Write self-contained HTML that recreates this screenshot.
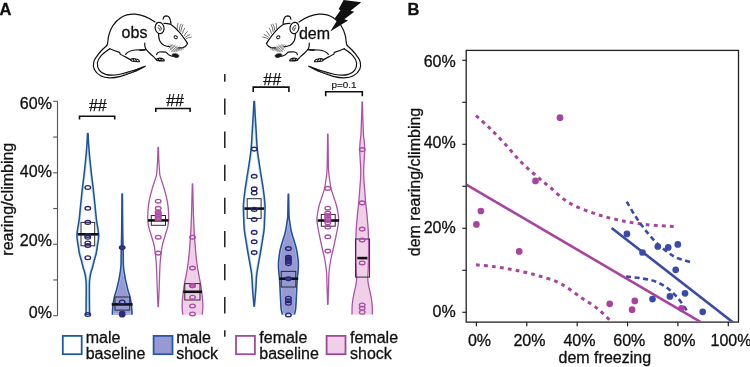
<!DOCTYPE html>
<html><head><meta charset="utf-8"><style>
html,body{margin:0;padding:0;background:#fff;width:750px;height:367px;overflow:hidden}
svg{display:block;will-change:transform}
text{font-family:"Liberation Sans",sans-serif;fill:#111;stroke:#111;stroke-width:0.3px}
text.t{stroke:none}
</style></head><body>
<svg width="750" height="367" viewBox="0 0 750 367">
<text x="-0.4" y="15" font-size="16.5" font-weight="bold">A</text><text x="407.5" y="15" font-size="16.5" font-weight="bold">B</text>
<g id="m1"><g fill="none" stroke="#111" stroke-width="1.2" stroke-linecap="round" stroke-linejoin="round">
<path d="M106.8 45.5 C108.5 43 107.6 39.5 108.6 36 C110.5 28 115 21.5 121 17.5 C126 14.5 131 14 135 14.2 C141 14.5 147 16.5 155 22"/>
<path d="M106.80 45.50 C105.92 46.33 103.10 48.78 101.50 50.50 C99.90 52.22 98.48 53.92 97.20 55.80 C95.92 57.68 94.30 59.55 93.80 61.80 C93.30 64.05 93.07 66.97 94.20 69.30 C95.33 71.63 98.00 74.38 100.60 75.80 C103.20 77.22 106.45 77.72 109.80 77.80 C113.15 77.88 116.70 77.30 120.70 76.30 C124.70 75.30 129.70 73.48 133.80 71.80 C137.90 70.12 143.38 67.13 145.30 66.20 C143.75 66.80 139.18 68.73 136.00 69.80 C132.82 70.87 129.65 71.73 126.20 72.60 C122.75 73.47 118.73 74.72 115.30 75.00 C111.87 75.28 108.25 75.08 105.60 74.30 C102.95 73.52 100.77 72.20 99.40 70.30 C98.03 68.40 97.10 65.35 97.40 62.90 C97.70 60.45 99.13 57.97 101.20 55.60 C103.27 53.23 108.37 49.85 109.80 48.70"/>
<path d="M123 73.2 L124 75.2 M126 72.4 L127.2 74.3 M129 71.5 L130.2 73.4 M132 70.5 L133.2 72.3 M135 69.5 L136 71.2 M138 68.4 L139 70" stroke-width="0.5"/>
<path d="M109.8 48.7 C113 50 117 51.5 119.6 52.4 L120.3 54.2 C123 55.6 127 57.8 130.4 59.6"/>
<path d="M130.4 59.6 C132 58.5 134 58.3 136 59 C138 59.5 139.5 60.5 139.4 61.6 C137 61.9 134 61.6 131.6 61 Z"/>
<path d="M133 59.3 L134.3 61.3 M135.5 59.5 L136.8 61.5" stroke-width="1.1"/>
<path d="M125.6 54.3 C127.8 51.5 131 50.3 135 50 C139 49.8 142.5 49.9 145.7 49.6"/>
<path d="M144.8 43.2 C144.5 45.2 145 47.5 145.7 48.9 C147.5 51.5 150.5 54 153.2 56.4 C154.5 57.6 155.4 59 156.4 59.6"/>
<path d="M156.4 59.6 C157.5 58.3 159.5 58 161.5 58.4 C163.5 58.9 164.5 59.8 164.2 60.8 C161.8 61 159 60.8 156.8 60.4 Z"/>
<path d="M158 58.6 L159.4 60.6 M160.6 58.7 L161.8 60.6" stroke-width="1.1"/>
<path d="M156.6 54.6 C156.8 53 157.6 52.2 159.2 52 C161.5 51.9 164 51.9 165.9 52.1 C167 53 167.6 54 168.6 54.7 C170 55.5 171.5 56 173.1 56.3"/>
<path d="M158.5 33.6 C158.6 36 158.8 38.6 159.6 40.5 C160.4 42.2 162 44.2 163.9 45.2 C165.8 46.1 168 46.5 169.8 46.6 M178.3 47.8 C180 47.9 181.6 47.9 182.9 47.7 C184.6 47.2 186 46.3 186.8 44.8 C187.2 44 187.4 43.6 187.5 43.4"/>
<ellipse cx="159.6" cy="28" rx="4.4" ry="5.7" transform="rotate(-12 159.6 28)" fill="#fff"/>
<path d="M158.4 25.6 C160 25.6 161.4 27.2 161.3 29.3 M158.2 27.7 C159.3 28.2 160.1 29.3 160.1 30.7" stroke-width="0.9"/>
<path d="M163.1 19.2 C163.3 17.2 164.6 15.8 166.5 15.8 C168.6 16 169.8 17.8 170.4 20.2 C170.8 21.5 170.9 22.6 170.9 23.4"/>
<path d="M164 23.3 C166 23.2 168.5 23.6 170.9 24.4 C173.8 26.3 176.3 28.6 178.8 31.6 C180.8 33.8 182.6 36 184 38.2 C185.3 40 186.5 41.7 187.4 43.4"/>
<ellipse cx="175.7" cy="37.3" rx="1.65" ry="1.4" transform="rotate(20 175.7 37.3)" stroke-width="0.95"/>
<path d="M177.3 28.8 Q176.9 25.2 178 23.3 M179.3 30.2 Q179.4 26.6 181 24.1 M180.8 31.6 Q181.2 27.8 182.8 24.7 M182.6 33.3 Q183.2 30.2 184.7 28.2 M184.5 35.6 Q185.5 33.1 187.4 31.4 M185.6 37.2 Q187.6 35.2 189.8 34.6 M186.3 38.6 Q188.4 37.2 191.3 37.1" stroke-width="0.6"/>
<path d="M168.3 45.2 L172.8 51.5 M169.8 44.6 L175 51.8 M171.6 44.8 L177 51.6 M173.6 45.4 L178.6 50.8 M175.8 46.4 L179.6 49.8 M168.6 48.2 L172.4 44.6 M169.6 50.4 L175.4 45 M171.4 51.6 L177.6 46 M173.6 51.8 L179.4 47 M176 51.4 L179.8 48.4 M179.6 47.8 L180.2 50.6 M181.2 47.6 L181.6 50.2 M182.8 47.4 L183.2 49.6" stroke-width="0.5" stroke="#444"/>
<path d="M172.4 54.2 C173.6 53.4 175.6 53.5 177.4 54.2 C178.6 54.7 179.2 55.6 178.8 56.6 C178 57.6 176.2 57.7 174.8 57.2 C173.6 56.8 172.7 56.1 172.4 55.3 Z" fill="#1a1a1a" stroke-width="0.7"/>
<path d="M140 50.4 L144.8 49.9" />
</g>
</g><g transform="translate(454,0) scale(-1,1)"><g fill="none" stroke="#111" stroke-width="1.2" stroke-linecap="round" stroke-linejoin="round">
<path d="M106.8 45.5 C108.5 43 107.6 39.5 108.6 36 C110.5 28 115 21.5 121 17.5 C126 14.5 131 14 135 14.2 C141 14.5 147 16.5 155 22"/>
<path d="M106.80 45.50 C105.92 46.33 103.10 48.78 101.50 50.50 C99.90 52.22 98.48 53.92 97.20 55.80 C95.92 57.68 94.30 59.55 93.80 61.80 C93.30 64.05 93.07 66.97 94.20 69.30 C95.33 71.63 98.00 74.38 100.60 75.80 C103.20 77.22 106.45 77.72 109.80 77.80 C113.15 77.88 116.70 77.30 120.70 76.30 C124.70 75.30 129.70 73.48 133.80 71.80 C137.90 70.12 143.38 67.13 145.30 66.20 C143.75 66.80 139.18 68.73 136.00 69.80 C132.82 70.87 129.65 71.73 126.20 72.60 C122.75 73.47 118.73 74.72 115.30 75.00 C111.87 75.28 108.25 75.08 105.60 74.30 C102.95 73.52 100.77 72.20 99.40 70.30 C98.03 68.40 97.10 65.35 97.40 62.90 C97.70 60.45 99.13 57.97 101.20 55.60 C103.27 53.23 108.37 49.85 109.80 48.70"/>
<path d="M123 73.2 L124 75.2 M126 72.4 L127.2 74.3 M129 71.5 L130.2 73.4 M132 70.5 L133.2 72.3 M135 69.5 L136 71.2 M138 68.4 L139 70" stroke-width="0.5"/>
<path d="M109.8 48.7 C113 50 117 51.5 119.6 52.4 L120.3 54.2 C123 55.6 127 57.8 130.4 59.6"/>
<path d="M130.4 59.6 C132 58.5 134 58.3 136 59 C138 59.5 139.5 60.5 139.4 61.6 C137 61.9 134 61.6 131.6 61 Z"/>
<path d="M133 59.3 L134.3 61.3 M135.5 59.5 L136.8 61.5" stroke-width="1.1"/>
<path d="M125.6 54.3 C127.8 51.5 131 50.3 135 50 C139 49.8 142.5 49.9 145.7 49.6"/>
<path d="M144.8 43.2 C144.5 45.2 145 47.5 145.7 48.9 C147.5 51.5 150.5 54 153.2 56.4 C154.5 57.6 155.4 59 156.4 59.6"/>
<path d="M156.4 59.6 C157.5 58.3 159.5 58 161.5 58.4 C163.5 58.9 164.5 59.8 164.2 60.8 C161.8 61 159 60.8 156.8 60.4 Z"/>
<path d="M158 58.6 L159.4 60.6 M160.6 58.7 L161.8 60.6" stroke-width="1.1"/>
<path d="M156.6 54.6 C156.8 53 157.6 52.2 159.2 52 C161.5 51.9 164 51.9 165.9 52.1 C167 53 167.6 54 168.6 54.7 C170 55.5 171.5 56 173.1 56.3"/>
<path d="M158.5 33.6 C158.6 36 158.8 38.6 159.6 40.5 C160.4 42.2 162 44.2 163.9 45.2 C165.8 46.1 168 46.5 169.8 46.6 M178.3 47.8 C180 47.9 181.6 47.9 182.9 47.7 C184.6 47.2 186 46.3 186.8 44.8 C187.2 44 187.4 43.6 187.5 43.4"/>
<ellipse cx="159.6" cy="28" rx="4.4" ry="5.7" transform="rotate(-12 159.6 28)" fill="#fff"/>
<path d="M158.4 25.6 C160 25.6 161.4 27.2 161.3 29.3 M158.2 27.7 C159.3 28.2 160.1 29.3 160.1 30.7" stroke-width="0.9"/>
<path d="M163.1 19.2 C163.3 17.2 164.6 15.8 166.5 15.8 C168.6 16 169.8 17.8 170.4 20.2 C170.8 21.5 170.9 22.6 170.9 23.4"/>
<path d="M164 23.3 C166 23.2 168.5 23.6 170.9 24.4 C173.8 26.3 176.3 28.6 178.8 31.6 C180.8 33.8 182.6 36 184 38.2 C185.3 40 186.5 41.7 187.4 43.4"/>
<ellipse cx="175.7" cy="37.3" rx="1.65" ry="1.4" transform="rotate(20 175.7 37.3)" stroke-width="0.95"/>
<path d="M177.3 28.8 Q176.9 25.2 178 23.3 M179.3 30.2 Q179.4 26.6 181 24.1 M180.8 31.6 Q181.2 27.8 182.8 24.7 M182.6 33.3 Q183.2 30.2 184.7 28.2 M184.5 35.6 Q185.5 33.1 187.4 31.4 M185.6 37.2 Q187.6 35.2 189.8 34.6 M186.3 38.6 Q188.4 37.2 191.3 37.1" stroke-width="0.6"/>
<path d="M168.3 45.2 L172.8 51.5 M169.8 44.6 L175 51.8 M171.6 44.8 L177 51.6 M173.6 45.4 L178.6 50.8 M175.8 46.4 L179.6 49.8 M168.6 48.2 L172.4 44.6 M169.6 50.4 L175.4 45 M171.4 51.6 L177.6 46 M173.6 51.8 L179.4 47 M176 51.4 L179.8 48.4 M179.6 47.8 L180.2 50.6 M181.2 47.6 L181.6 50.2 M182.8 47.4 L183.2 49.6" stroke-width="0.5" stroke="#444"/>
<path d="M172.4 54.2 C173.6 53.4 175.6 53.5 177.4 54.2 C178.6 54.7 179.2 55.6 178.8 56.6 C178 57.6 176.2 57.7 174.8 57.2 C173.6 56.8 172.7 56.1 172.4 55.3 Z" fill="#1a1a1a" stroke-width="0.7"/>
<path d="M140 50.4 L144.8 49.9" />
</g>
</g><text x="121.6" y="38" font-size="16">obs</text><text x="298.9" y="39" font-size="16">dem</text><path d="M343.6 0 L361.3 2.2 L350.5 10.8 L354.3 11.8 L344.3 19.3 L348 20.4 L330.3 31.5 L337 20.6 L334.8 18.3 L340.5 10.3 L338.6 9.2 Z" fill="#111"/>
<line x1="224.8" y1="74" x2="224.8" y2="336.7" stroke="#111" stroke-width="1.4" stroke-dasharray="16.3 16.8" stroke-dashoffset="8.6"/>
<path d="M57.50 101.32 V315.70" stroke="#555" stroke-width="1.1" fill="none"/><line x1="53.2" y1="315.70" x2="57.50" y2="315.70" stroke="#555" stroke-width="1.1"/><line x1="53.2" y1="279.97" x2="57.50" y2="279.97" stroke="#555" stroke-width="1.1"/><line x1="53.2" y1="244.24" x2="57.50" y2="244.24" stroke="#555" stroke-width="1.1"/><line x1="53.2" y1="208.51" x2="57.50" y2="208.51" stroke="#555" stroke-width="1.1"/><line x1="53.2" y1="172.78" x2="57.50" y2="172.78" stroke="#555" stroke-width="1.1"/><line x1="53.2" y1="137.05" x2="57.50" y2="137.05" stroke="#555" stroke-width="1.1"/><line x1="53.2" y1="101.32" x2="57.50" y2="101.32" stroke="#555" stroke-width="1.1"/><text x="51.9" y="318.00" text-anchor="end" font-size="16">0%</text><text x="51.9" y="246.00" text-anchor="end" font-size="16">20%</text><text x="51.9" y="177.00" text-anchor="end" font-size="16">40%</text><text x="51.9" y="109.00" text-anchor="end" font-size="16">60%</text><text transform="translate(13.2,199.2) rotate(-90)" text-anchor="middle" font-size="16">rearing/climbing</text>
<path d="M79.50 119.60 V116.20 H114.70 V119.60" fill="none" stroke="#111" stroke-width="1.6"/><path d="M155.80 112.10 V108.50 H190.10 V112.10" fill="none" stroke="#111" stroke-width="1.6"/><path d="M253.20 92.10 V87.10 H288.90 V92.10" fill="none" stroke="#111" stroke-width="1.6"/><path d="M325.70 96.20 V91.70 H362.30 V96.20" fill="none" stroke="#111" stroke-width="1.6"/><text style="stroke-width:0.25px" x="97.85" y="111" text-anchor="middle" font-size="16">##</text><text style="stroke-width:0.25px" x="175.05" y="106" text-anchor="middle" font-size="16">##</text><text style="stroke-width:0.25px" x="272.15" y="85" text-anchor="middle" font-size="16">##</text><text style="stroke-width:0.15px" x="344" y="88" text-anchor="middle" font-size="9.9">p=0.1</text>
<clipPath id="vc0"><path d="M88.10 133.50 C88.20 135.42 88.38 140.58 88.70 145.00 C89.02 149.42 89.52 155.00 90.00 160.00 C90.48 165.00 91.08 170.50 91.60 175.00 C92.12 179.50 92.53 182.00 93.10 187.00 C93.67 192.00 94.45 199.67 95.00 205.00 C95.55 210.33 95.78 214.00 96.40 219.00 C97.02 224.00 98.53 230.50 98.70 235.00 C98.87 239.50 97.82 242.90 97.40 246.00 C96.98 249.10 96.70 251.27 96.20 253.60 C95.70 255.93 95.00 257.73 94.40 260.00 C93.80 262.27 93.23 264.87 92.60 267.20 C91.97 269.53 91.10 271.70 90.60 274.00 C90.10 276.30 89.80 278.33 89.60 281.00 C89.40 283.67 89.42 286.00 89.40 290.00 C89.38 294.00 89.47 300.92 89.50 305.00 C89.53 309.08 89.58 312.92 89.60 314.50 L86.00 314.50 C86.02 312.92 86.07 309.08 86.10 305.00 C86.13 300.92 86.22 294.00 86.20 290.00 C86.18 286.00 86.20 283.67 86.00 281.00 C85.80 278.33 85.50 276.30 85.00 274.00 C84.50 271.70 83.63 269.53 83.00 267.20 C82.37 264.87 81.80 262.27 81.20 260.00 C80.60 257.73 79.90 255.93 79.40 253.60 C78.90 251.27 78.62 249.10 78.20 246.00 C77.78 242.90 76.73 239.50 76.90 235.00 C77.07 230.50 78.58 224.00 79.20 219.00 C79.82 214.00 80.05 210.33 80.60 205.00 C81.15 199.67 81.93 192.00 82.50 187.00 C83.07 182.00 83.48 179.50 84.00 175.00 C84.52 170.50 85.12 165.00 85.60 160.00 C86.08 155.00 86.58 149.42 86.90 145.00 C87.22 140.58 87.40 135.42 87.50 133.50 Z"/></clipPath>
<path d="M88.10 133.50 C88.20 135.42 88.38 140.58 88.70 145.00 C89.02 149.42 89.52 155.00 90.00 160.00 C90.48 165.00 91.08 170.50 91.60 175.00 C92.12 179.50 92.53 182.00 93.10 187.00 C93.67 192.00 94.45 199.67 95.00 205.00 C95.55 210.33 95.78 214.00 96.40 219.00 C97.02 224.00 98.53 230.50 98.70 235.00 C98.87 239.50 97.82 242.90 97.40 246.00 C96.98 249.10 96.70 251.27 96.20 253.60 C95.70 255.93 95.00 257.73 94.40 260.00 C93.80 262.27 93.23 264.87 92.60 267.20 C91.97 269.53 91.10 271.70 90.60 274.00 C90.10 276.30 89.80 278.33 89.60 281.00 C89.40 283.67 89.42 286.00 89.40 290.00 C89.38 294.00 89.47 300.92 89.50 305.00 C89.53 309.08 89.58 312.92 89.60 314.50 L86.00 314.50 C86.02 312.92 86.07 309.08 86.10 305.00 C86.13 300.92 86.22 294.00 86.20 290.00 C86.18 286.00 86.20 283.67 86.00 281.00 C85.80 278.33 85.50 276.30 85.00 274.00 C84.50 271.70 83.63 269.53 83.00 267.20 C82.37 264.87 81.80 262.27 81.20 260.00 C80.60 257.73 79.90 255.93 79.40 253.60 C78.90 251.27 78.62 249.10 78.20 246.00 C77.78 242.90 76.73 239.50 76.90 235.00 C77.07 230.50 78.58 224.00 79.20 219.00 C79.82 214.00 80.05 210.33 80.60 205.00 C81.15 199.67 81.93 192.00 82.50 187.00 C83.07 182.00 83.48 179.50 84.00 175.00 C84.52 170.50 85.12 165.00 85.60 160.00 C86.08 155.00 86.58 149.42 86.90 145.00 C87.22 140.58 87.40 135.42 87.50 133.50 Z" fill="none" stroke="#bcdcf4" stroke-width="3.2" clip-path="url(#vc0)"/>
<path d="M88.10 133.50 C88.20 135.42 88.38 140.58 88.70 145.00 C89.02 149.42 89.52 155.00 90.00 160.00 C90.48 165.00 91.08 170.50 91.60 175.00 C92.12 179.50 92.53 182.00 93.10 187.00 C93.67 192.00 94.45 199.67 95.00 205.00 C95.55 210.33 95.78 214.00 96.40 219.00 C97.02 224.00 98.53 230.50 98.70 235.00 C98.87 239.50 97.82 242.90 97.40 246.00 C96.98 249.10 96.70 251.27 96.20 253.60 C95.70 255.93 95.00 257.73 94.40 260.00 C93.80 262.27 93.23 264.87 92.60 267.20 C91.97 269.53 91.10 271.70 90.60 274.00 C90.10 276.30 89.80 278.33 89.60 281.00 C89.40 283.67 89.42 286.00 89.40 290.00 C89.38 294.00 89.47 300.92 89.50 305.00 C89.53 309.08 89.58 312.92 89.60 314.50 L86.00 314.50 C86.02 312.92 86.07 309.08 86.10 305.00 C86.13 300.92 86.22 294.00 86.20 290.00 C86.18 286.00 86.20 283.67 86.00 281.00 C85.80 278.33 85.50 276.30 85.00 274.00 C84.50 271.70 83.63 269.53 83.00 267.20 C82.37 264.87 81.80 262.27 81.20 260.00 C80.60 257.73 79.90 255.93 79.40 253.60 C78.90 251.27 78.62 249.10 78.20 246.00 C77.78 242.90 76.73 239.50 76.90 235.00 C77.07 230.50 78.58 224.00 79.20 219.00 C79.82 214.00 80.05 210.33 80.60 205.00 C81.15 199.67 81.93 192.00 82.50 187.00 C83.07 182.00 83.48 179.50 84.00 175.00 C84.52 170.50 85.12 165.00 85.60 160.00 C86.08 155.00 86.58 149.42 86.90 145.00 C87.22 140.58 87.40 135.42 87.50 133.50 Z" fill="none" stroke="#1e5496" stroke-width="1.55" stroke-linejoin="round"/>
<clipPath id="vc1"><path d="M122.40 194.00 C122.45 200.00 122.58 221.00 122.70 230.00 C122.82 239.00 123.00 243.67 123.10 248.00 C123.20 252.33 123.25 253.17 123.30 256.00 C123.35 258.83 123.28 262.50 123.40 265.00 C123.52 267.50 123.78 269.33 124.00 271.00 C124.22 272.67 124.48 273.67 124.70 275.00 C124.92 276.33 125.00 277.50 125.30 279.00 C125.60 280.50 126.15 282.50 126.50 284.00 C126.85 285.50 127.07 286.67 127.40 288.00 C127.73 289.33 128.10 290.67 128.50 292.00 C128.90 293.33 129.45 294.67 129.80 296.00 C130.15 297.33 130.33 298.60 130.60 300.00 C130.87 301.40 131.20 302.90 131.40 304.40 C131.60 305.90 131.70 307.63 131.80 309.00 C131.90 310.37 131.97 311.65 132.00 312.60 C132.03 313.55 132.00 314.35 132.00 314.70 L112.40 314.70 C112.40 314.35 112.37 313.55 112.40 312.60 C112.43 311.65 112.50 310.37 112.60 309.00 C112.70 307.63 112.80 305.90 113.00 304.40 C113.20 302.90 113.53 301.40 113.80 300.00 C114.07 298.60 114.25 297.33 114.60 296.00 C114.95 294.67 115.50 293.33 115.90 292.00 C116.30 290.67 116.67 289.33 117.00 288.00 C117.33 286.67 117.55 285.50 117.90 284.00 C118.25 282.50 118.80 280.50 119.10 279.00 C119.40 277.50 119.48 276.33 119.70 275.00 C119.92 273.67 120.18 272.67 120.40 271.00 C120.62 269.33 120.88 267.50 121.00 265.00 C121.12 262.50 121.05 258.83 121.10 256.00 C121.15 253.17 121.20 252.33 121.30 248.00 C121.40 243.67 121.58 239.00 121.70 230.00 C121.82 221.00 121.95 200.00 122.00 194.00 Z"/></clipPath>
<path d="M122.40 194.00 C122.45 200.00 122.58 221.00 122.70 230.00 C122.82 239.00 123.00 243.67 123.10 248.00 C123.20 252.33 123.25 253.17 123.30 256.00 C123.35 258.83 123.28 262.50 123.40 265.00 C123.52 267.50 123.78 269.33 124.00 271.00 C124.22 272.67 124.48 273.67 124.70 275.00 C124.92 276.33 125.00 277.50 125.30 279.00 C125.60 280.50 126.15 282.50 126.50 284.00 C126.85 285.50 127.07 286.67 127.40 288.00 C127.73 289.33 128.10 290.67 128.50 292.00 C128.90 293.33 129.45 294.67 129.80 296.00 C130.15 297.33 130.33 298.60 130.60 300.00 C130.87 301.40 131.20 302.90 131.40 304.40 C131.60 305.90 131.70 307.63 131.80 309.00 C131.90 310.37 131.97 311.65 132.00 312.60 C132.03 313.55 132.00 314.35 132.00 314.70 L112.40 314.70 C112.40 314.35 112.37 313.55 112.40 312.60 C112.43 311.65 112.50 310.37 112.60 309.00 C112.70 307.63 112.80 305.90 113.00 304.40 C113.20 302.90 113.53 301.40 113.80 300.00 C114.07 298.60 114.25 297.33 114.60 296.00 C114.95 294.67 115.50 293.33 115.90 292.00 C116.30 290.67 116.67 289.33 117.00 288.00 C117.33 286.67 117.55 285.50 117.90 284.00 C118.25 282.50 118.80 280.50 119.10 279.00 C119.40 277.50 119.48 276.33 119.70 275.00 C119.92 273.67 120.18 272.67 120.40 271.00 C120.62 269.33 120.88 267.50 121.00 265.00 C121.12 262.50 121.05 258.83 121.10 256.00 C121.15 253.17 121.20 252.33 121.30 248.00 C121.40 243.67 121.58 239.00 121.70 230.00 C121.82 221.00 121.95 200.00 122.00 194.00 Z" fill="#9799d3" stroke="none"/>
<path d="M122.40 194.00 C122.45 200.00 122.58 221.00 122.70 230.00 C122.82 239.00 123.00 243.67 123.10 248.00 C123.20 252.33 123.25 253.17 123.30 256.00 C123.35 258.83 123.28 262.50 123.40 265.00 C123.52 267.50 123.78 269.33 124.00 271.00 C124.22 272.67 124.48 273.67 124.70 275.00 C124.92 276.33 125.00 277.50 125.30 279.00 C125.60 280.50 126.15 282.50 126.50 284.00 C126.85 285.50 127.07 286.67 127.40 288.00 C127.73 289.33 128.10 290.67 128.50 292.00 C128.90 293.33 129.45 294.67 129.80 296.00 C130.15 297.33 130.33 298.60 130.60 300.00 C130.87 301.40 131.20 302.90 131.40 304.40 C131.60 305.90 131.70 307.63 131.80 309.00 C131.90 310.37 131.97 311.65 132.00 312.60 C132.03 313.55 132.00 314.35 132.00 314.70 L112.40 314.70 C112.40 314.35 112.37 313.55 112.40 312.60 C112.43 311.65 112.50 310.37 112.60 309.00 C112.70 307.63 112.80 305.90 113.00 304.40 C113.20 302.90 113.53 301.40 113.80 300.00 C114.07 298.60 114.25 297.33 114.60 296.00 C114.95 294.67 115.50 293.33 115.90 292.00 C116.30 290.67 116.67 289.33 117.00 288.00 C117.33 286.67 117.55 285.50 117.90 284.00 C118.25 282.50 118.80 280.50 119.10 279.00 C119.40 277.50 119.48 276.33 119.70 275.00 C119.92 273.67 120.18 272.67 120.40 271.00 C120.62 269.33 120.88 267.50 121.00 265.00 C121.12 262.50 121.05 258.83 121.10 256.00 C121.15 253.17 121.20 252.33 121.30 248.00 C121.40 243.67 121.58 239.00 121.70 230.00 C121.82 221.00 121.95 200.00 122.00 194.00 Z" fill="none" stroke="#a6bce8" stroke-width="3.2" clip-path="url(#vc1)"/>
<path d="M112.40 314.70 C112.40 314.35 112.37 313.55 112.40 312.60 C112.43 311.65 112.50 310.37 112.60 309.00 C112.70 307.63 112.80 305.90 113.00 304.40 C113.20 302.90 113.53 301.40 113.80 300.00 C114.07 298.60 114.25 297.33 114.60 296.00 C114.95 294.67 115.50 293.33 115.90 292.00 C116.30 290.67 116.67 289.33 117.00 288.00 C117.33 286.67 117.55 285.50 117.90 284.00 C118.25 282.50 118.80 280.50 119.10 279.00 C119.40 277.50 119.48 276.33 119.70 275.00 C119.92 273.67 120.18 272.67 120.40 271.00 C120.62 269.33 120.88 267.50 121.00 265.00 C121.12 262.50 121.05 258.83 121.10 256.00 C121.15 253.17 121.20 252.33 121.30 248.00 C121.40 243.67 121.58 239.00 121.70 230.00 C121.82 221.00 121.95 200.00 122.00 194.00 L122.40 194.00 C122.45 200.00 122.58 221.00 122.70 230.00 C122.82 239.00 123.00 243.67 123.10 248.00 C123.20 252.33 123.25 253.17 123.30 256.00 C123.35 258.83 123.28 262.50 123.40 265.00 C123.52 267.50 123.78 269.33 124.00 271.00 C124.22 272.67 124.48 273.67 124.70 275.00 C124.92 276.33 125.00 277.50 125.30 279.00 C125.60 280.50 126.15 282.50 126.50 284.00 C126.85 285.50 127.07 286.67 127.40 288.00 C127.73 289.33 128.10 290.67 128.50 292.00 C128.90 293.33 129.45 294.67 129.80 296.00 C130.15 297.33 130.33 298.60 130.60 300.00 C130.87 301.40 131.20 302.90 131.40 304.40 C131.60 305.90 131.70 307.63 131.80 309.00 C131.90 310.37 131.97 311.65 132.00 312.60 C132.03 313.55 132.00 314.35 132.00 314.70" fill="none" stroke="#244f98" stroke-width="1.55" stroke-linejoin="round"/>
<path d="M158.40 147.40 C158.47 149.50 158.65 156.57 158.80 160.00 C158.95 163.43 159.12 165.50 159.30 168.00 C159.48 170.50 159.48 172.78 159.90 175.00 C160.32 177.22 161.05 178.88 161.80 181.30 C162.55 183.72 163.62 186.77 164.40 189.50 C165.18 192.23 165.90 194.98 166.50 197.70 C167.10 200.42 167.65 203.08 168.00 205.80 C168.35 208.52 168.50 211.55 168.60 214.00 C168.70 216.45 168.72 218.50 168.60 220.50 C168.48 222.50 168.25 224.25 167.90 226.00 C167.55 227.75 167.03 229.17 166.50 231.00 C165.97 232.83 165.35 234.83 164.70 237.00 C164.05 239.17 163.13 241.83 162.60 244.00 C162.07 246.17 161.77 248.22 161.50 250.00 C161.23 251.78 161.22 252.70 161.00 254.70 C160.78 256.70 160.42 259.12 160.20 262.00 C159.98 264.88 159.88 267.33 159.70 272.00 C159.52 276.67 159.32 284.25 159.10 290.00 C158.88 295.75 158.52 303.75 158.40 306.50 L158.00 306.50 C157.88 303.75 157.52 295.75 157.30 290.00 C157.08 284.25 156.88 276.67 156.70 272.00 C156.52 267.33 156.42 264.88 156.20 262.00 C155.98 259.12 155.62 256.70 155.40 254.70 C155.18 252.70 155.17 251.78 154.90 250.00 C154.63 248.22 154.33 246.17 153.80 244.00 C153.27 241.83 152.35 239.17 151.70 237.00 C151.05 234.83 150.43 232.83 149.90 231.00 C149.37 229.17 148.85 227.75 148.50 226.00 C148.15 224.25 147.92 222.50 147.80 220.50 C147.68 218.50 147.70 216.45 147.80 214.00 C147.90 211.55 148.05 208.52 148.40 205.80 C148.75 203.08 149.30 200.42 149.90 197.70 C150.50 194.98 151.22 192.23 152.00 189.50 C152.78 186.77 153.85 183.72 154.60 181.30 C155.35 178.88 156.08 177.22 156.50 175.00 C156.92 172.78 156.92 170.50 157.10 168.00 C157.28 165.50 157.45 163.43 157.60 160.00 C157.75 156.57 157.93 149.50 158.00 147.40 Z" fill="none" stroke="#ad53a5" stroke-width="1.30" stroke-linejoin="round"/>
<path d="M192.70 183.90 C192.77 186.58 192.97 194.82 193.10 200.00 C193.23 205.18 193.35 210.33 193.50 215.00 C193.65 219.67 193.83 224.33 194.00 228.00 C194.17 231.67 194.28 233.83 194.50 237.00 C194.72 240.17 195.08 244.33 195.30 247.00 C195.52 249.67 195.60 250.83 195.80 253.00 C196.00 255.17 196.25 257.83 196.50 260.00 C196.75 262.17 197.03 264.17 197.30 266.00 C197.57 267.83 197.75 269.00 198.10 271.00 C198.45 273.00 198.98 275.83 199.40 278.00 C199.82 280.17 200.18 281.50 200.60 284.00 C201.02 286.50 201.53 289.83 201.90 293.00 C202.27 296.17 202.67 300.17 202.80 303.00 C202.93 305.83 202.82 308.05 202.70 310.00 C202.58 311.95 202.20 313.92 202.10 314.70 L182.90 314.70 C182.80 313.92 182.42 311.95 182.30 310.00 C182.18 308.05 182.07 305.83 182.20 303.00 C182.33 300.17 182.73 296.17 183.10 293.00 C183.47 289.83 183.98 286.50 184.40 284.00 C184.82 281.50 185.18 280.17 185.60 278.00 C186.02 275.83 186.55 273.00 186.90 271.00 C187.25 269.00 187.43 267.83 187.70 266.00 C187.97 264.17 188.25 262.17 188.50 260.00 C188.75 257.83 189.00 255.17 189.20 253.00 C189.40 250.83 189.48 249.67 189.70 247.00 C189.92 244.33 190.28 240.17 190.50 237.00 C190.72 233.83 190.83 231.67 191.00 228.00 C191.17 224.33 191.35 219.67 191.50 215.00 C191.65 210.33 191.77 205.18 191.90 200.00 C192.03 194.82 192.23 186.58 192.30 183.90 Z" fill="#f0d0e8" stroke="none"/>
<path d="M182.90 314.70 C182.80 313.92 182.42 311.95 182.30 310.00 C182.18 308.05 182.07 305.83 182.20 303.00 C182.33 300.17 182.73 296.17 183.10 293.00 C183.47 289.83 183.98 286.50 184.40 284.00 C184.82 281.50 185.18 280.17 185.60 278.00 C186.02 275.83 186.55 273.00 186.90 271.00 C187.25 269.00 187.43 267.83 187.70 266.00 C187.97 264.17 188.25 262.17 188.50 260.00 C188.75 257.83 189.00 255.17 189.20 253.00 C189.40 250.83 189.48 249.67 189.70 247.00 C189.92 244.33 190.28 240.17 190.50 237.00 C190.72 233.83 190.83 231.67 191.00 228.00 C191.17 224.33 191.35 219.67 191.50 215.00 C191.65 210.33 191.77 205.18 191.90 200.00 C192.03 194.82 192.23 186.58 192.30 183.90 L192.70 183.90 C192.77 186.58 192.97 194.82 193.10 200.00 C193.23 205.18 193.35 210.33 193.50 215.00 C193.65 219.67 193.83 224.33 194.00 228.00 C194.17 231.67 194.28 233.83 194.50 237.00 C194.72 240.17 195.08 244.33 195.30 247.00 C195.52 249.67 195.60 250.83 195.80 253.00 C196.00 255.17 196.25 257.83 196.50 260.00 C196.75 262.17 197.03 264.17 197.30 266.00 C197.57 267.83 197.75 269.00 198.10 271.00 C198.45 273.00 198.98 275.83 199.40 278.00 C199.82 280.17 200.18 281.50 200.60 284.00 C201.02 286.50 201.53 289.83 201.90 293.00 C202.27 296.17 202.67 300.17 202.80 303.00 C202.93 305.83 202.82 308.05 202.70 310.00 C202.58 311.95 202.20 313.92 202.10 314.70" fill="none" stroke="#ad53a5" stroke-width="1.30" stroke-linejoin="round"/>
<clipPath id="vc4"><path d="M254.50 101.40 C254.58 103.17 254.83 108.90 255.00 112.00 C255.17 115.10 255.27 116.17 255.50 120.00 C255.73 123.83 256.10 130.17 256.40 135.00 C256.70 139.83 256.83 144.33 257.30 149.00 C257.77 153.67 258.53 158.42 259.20 163.00 C259.87 167.58 260.60 172.00 261.30 176.50 C262.00 181.00 262.78 185.25 263.40 190.00 C264.02 194.75 264.78 200.33 265.00 205.00 C265.22 209.67 264.85 213.83 264.70 218.00 C264.55 222.17 264.48 226.17 264.10 230.00 C263.72 233.83 262.98 237.33 262.40 241.00 C261.82 244.67 261.22 248.38 260.60 252.00 C259.98 255.62 259.35 258.87 258.70 262.70 C258.05 266.53 257.18 270.45 256.70 275.00 C256.22 279.55 256.18 284.78 255.80 290.00 C255.42 295.22 254.63 303.58 254.40 306.30 L254.00 306.30 C253.77 303.58 252.98 295.22 252.60 290.00 C252.22 284.78 252.18 279.55 251.70 275.00 C251.22 270.45 250.35 266.53 249.70 262.70 C249.05 258.87 248.42 255.62 247.80 252.00 C247.18 248.38 246.58 244.67 246.00 241.00 C245.42 237.33 244.68 233.83 244.30 230.00 C243.92 226.17 243.85 222.17 243.70 218.00 C243.55 213.83 243.18 209.67 243.40 205.00 C243.62 200.33 244.38 194.75 245.00 190.00 C245.62 185.25 246.40 181.00 247.10 176.50 C247.80 172.00 248.53 167.58 249.20 163.00 C249.87 158.42 250.63 153.67 251.10 149.00 C251.57 144.33 251.70 139.83 252.00 135.00 C252.30 130.17 252.67 123.83 252.90 120.00 C253.13 116.17 253.23 115.10 253.40 112.00 C253.57 108.90 253.82 103.17 253.90 101.40 Z"/></clipPath>
<path d="M254.50 101.40 C254.58 103.17 254.83 108.90 255.00 112.00 C255.17 115.10 255.27 116.17 255.50 120.00 C255.73 123.83 256.10 130.17 256.40 135.00 C256.70 139.83 256.83 144.33 257.30 149.00 C257.77 153.67 258.53 158.42 259.20 163.00 C259.87 167.58 260.60 172.00 261.30 176.50 C262.00 181.00 262.78 185.25 263.40 190.00 C264.02 194.75 264.78 200.33 265.00 205.00 C265.22 209.67 264.85 213.83 264.70 218.00 C264.55 222.17 264.48 226.17 264.10 230.00 C263.72 233.83 262.98 237.33 262.40 241.00 C261.82 244.67 261.22 248.38 260.60 252.00 C259.98 255.62 259.35 258.87 258.70 262.70 C258.05 266.53 257.18 270.45 256.70 275.00 C256.22 279.55 256.18 284.78 255.80 290.00 C255.42 295.22 254.63 303.58 254.40 306.30 L254.00 306.30 C253.77 303.58 252.98 295.22 252.60 290.00 C252.22 284.78 252.18 279.55 251.70 275.00 C251.22 270.45 250.35 266.53 249.70 262.70 C249.05 258.87 248.42 255.62 247.80 252.00 C247.18 248.38 246.58 244.67 246.00 241.00 C245.42 237.33 244.68 233.83 244.30 230.00 C243.92 226.17 243.85 222.17 243.70 218.00 C243.55 213.83 243.18 209.67 243.40 205.00 C243.62 200.33 244.38 194.75 245.00 190.00 C245.62 185.25 246.40 181.00 247.10 176.50 C247.80 172.00 248.53 167.58 249.20 163.00 C249.87 158.42 250.63 153.67 251.10 149.00 C251.57 144.33 251.70 139.83 252.00 135.00 C252.30 130.17 252.67 123.83 252.90 120.00 C253.13 116.17 253.23 115.10 253.40 112.00 C253.57 108.90 253.82 103.17 253.90 101.40 Z" fill="none" stroke="#bcdcf4" stroke-width="3.2" clip-path="url(#vc4)"/>
<path d="M254.50 101.40 C254.58 103.17 254.83 108.90 255.00 112.00 C255.17 115.10 255.27 116.17 255.50 120.00 C255.73 123.83 256.10 130.17 256.40 135.00 C256.70 139.83 256.83 144.33 257.30 149.00 C257.77 153.67 258.53 158.42 259.20 163.00 C259.87 167.58 260.60 172.00 261.30 176.50 C262.00 181.00 262.78 185.25 263.40 190.00 C264.02 194.75 264.78 200.33 265.00 205.00 C265.22 209.67 264.85 213.83 264.70 218.00 C264.55 222.17 264.48 226.17 264.10 230.00 C263.72 233.83 262.98 237.33 262.40 241.00 C261.82 244.67 261.22 248.38 260.60 252.00 C259.98 255.62 259.35 258.87 258.70 262.70 C258.05 266.53 257.18 270.45 256.70 275.00 C256.22 279.55 256.18 284.78 255.80 290.00 C255.42 295.22 254.63 303.58 254.40 306.30 L254.00 306.30 C253.77 303.58 252.98 295.22 252.60 290.00 C252.22 284.78 252.18 279.55 251.70 275.00 C251.22 270.45 250.35 266.53 249.70 262.70 C249.05 258.87 248.42 255.62 247.80 252.00 C247.18 248.38 246.58 244.67 246.00 241.00 C245.42 237.33 244.68 233.83 244.30 230.00 C243.92 226.17 243.85 222.17 243.70 218.00 C243.55 213.83 243.18 209.67 243.40 205.00 C243.62 200.33 244.38 194.75 245.00 190.00 C245.62 185.25 246.40 181.00 247.10 176.50 C247.80 172.00 248.53 167.58 249.20 163.00 C249.87 158.42 250.63 153.67 251.10 149.00 C251.57 144.33 251.70 139.83 252.00 135.00 C252.30 130.17 252.67 123.83 252.90 120.00 C253.13 116.17 253.23 115.10 253.40 112.00 C253.57 108.90 253.82 103.17 253.90 101.40 Z" fill="none" stroke="#1e5496" stroke-width="1.55" stroke-linejoin="round"/>
<clipPath id="vc5"><path d="M288.60 194.30 C288.63 196.08 288.73 201.55 288.80 205.00 C288.87 208.45 288.92 212.67 289.00 215.00 C289.08 217.33 289.17 217.83 289.30 219.00 C289.43 220.17 289.62 220.83 289.80 222.00 C289.98 223.17 290.20 224.67 290.40 226.00 C290.60 227.33 290.68 228.47 291.00 230.00 C291.32 231.53 291.80 233.47 292.30 235.20 C292.80 236.93 293.47 238.68 294.00 240.40 C294.53 242.12 295.03 243.78 295.50 245.50 C295.97 247.22 296.45 248.97 296.80 250.70 C297.15 252.43 297.37 254.18 297.60 255.90 C297.83 257.62 298.07 259.32 298.20 261.00 C298.32 262.68 298.38 264.17 298.35 266.00 C298.32 267.83 298.19 269.67 298.00 272.00 C297.81 274.33 297.45 276.28 297.20 280.00 C296.95 283.72 296.75 289.55 296.50 294.30 C296.25 299.05 295.97 305.47 295.70 308.50 C295.43 311.53 295.12 311.50 294.90 312.50 C294.68 313.50 294.48 314.17 294.40 314.50 L282.40 314.50 C282.32 314.17 282.12 313.50 281.90 312.50 C281.68 311.50 281.37 311.53 281.10 308.50 C280.83 305.47 280.55 299.05 280.30 294.30 C280.05 289.55 279.85 283.72 279.60 280.00 C279.35 276.28 278.99 274.33 278.80 272.00 C278.61 269.67 278.48 267.83 278.45 266.00 C278.42 264.17 278.47 262.68 278.60 261.00 C278.72 259.32 278.97 257.62 279.20 255.90 C279.43 254.18 279.65 252.43 280.00 250.70 C280.35 248.97 280.83 247.22 281.30 245.50 C281.77 243.78 282.27 242.12 282.80 240.40 C283.33 238.68 284.00 236.93 284.50 235.20 C285.00 233.47 285.48 231.53 285.80 230.00 C286.12 228.47 286.20 227.33 286.40 226.00 C286.60 224.67 286.82 223.17 287.00 222.00 C287.18 220.83 287.37 220.17 287.50 219.00 C287.63 217.83 287.72 217.33 287.80 215.00 C287.88 212.67 287.93 208.45 288.00 205.00 C288.07 201.55 288.17 196.08 288.20 194.30 Z"/></clipPath>
<path d="M288.60 194.30 C288.63 196.08 288.73 201.55 288.80 205.00 C288.87 208.45 288.92 212.67 289.00 215.00 C289.08 217.33 289.17 217.83 289.30 219.00 C289.43 220.17 289.62 220.83 289.80 222.00 C289.98 223.17 290.20 224.67 290.40 226.00 C290.60 227.33 290.68 228.47 291.00 230.00 C291.32 231.53 291.80 233.47 292.30 235.20 C292.80 236.93 293.47 238.68 294.00 240.40 C294.53 242.12 295.03 243.78 295.50 245.50 C295.97 247.22 296.45 248.97 296.80 250.70 C297.15 252.43 297.37 254.18 297.60 255.90 C297.83 257.62 298.07 259.32 298.20 261.00 C298.32 262.68 298.38 264.17 298.35 266.00 C298.32 267.83 298.19 269.67 298.00 272.00 C297.81 274.33 297.45 276.28 297.20 280.00 C296.95 283.72 296.75 289.55 296.50 294.30 C296.25 299.05 295.97 305.47 295.70 308.50 C295.43 311.53 295.12 311.50 294.90 312.50 C294.68 313.50 294.48 314.17 294.40 314.50 L282.40 314.50 C282.32 314.17 282.12 313.50 281.90 312.50 C281.68 311.50 281.37 311.53 281.10 308.50 C280.83 305.47 280.55 299.05 280.30 294.30 C280.05 289.55 279.85 283.72 279.60 280.00 C279.35 276.28 278.99 274.33 278.80 272.00 C278.61 269.67 278.48 267.83 278.45 266.00 C278.42 264.17 278.47 262.68 278.60 261.00 C278.72 259.32 278.97 257.62 279.20 255.90 C279.43 254.18 279.65 252.43 280.00 250.70 C280.35 248.97 280.83 247.22 281.30 245.50 C281.77 243.78 282.27 242.12 282.80 240.40 C283.33 238.68 284.00 236.93 284.50 235.20 C285.00 233.47 285.48 231.53 285.80 230.00 C286.12 228.47 286.20 227.33 286.40 226.00 C286.60 224.67 286.82 223.17 287.00 222.00 C287.18 220.83 287.37 220.17 287.50 219.00 C287.63 217.83 287.72 217.33 287.80 215.00 C287.88 212.67 287.93 208.45 288.00 205.00 C288.07 201.55 288.17 196.08 288.20 194.30 Z" fill="#9799d3" stroke="none"/>
<path d="M288.60 194.30 C288.63 196.08 288.73 201.55 288.80 205.00 C288.87 208.45 288.92 212.67 289.00 215.00 C289.08 217.33 289.17 217.83 289.30 219.00 C289.43 220.17 289.62 220.83 289.80 222.00 C289.98 223.17 290.20 224.67 290.40 226.00 C290.60 227.33 290.68 228.47 291.00 230.00 C291.32 231.53 291.80 233.47 292.30 235.20 C292.80 236.93 293.47 238.68 294.00 240.40 C294.53 242.12 295.03 243.78 295.50 245.50 C295.97 247.22 296.45 248.97 296.80 250.70 C297.15 252.43 297.37 254.18 297.60 255.90 C297.83 257.62 298.07 259.32 298.20 261.00 C298.32 262.68 298.38 264.17 298.35 266.00 C298.32 267.83 298.19 269.67 298.00 272.00 C297.81 274.33 297.45 276.28 297.20 280.00 C296.95 283.72 296.75 289.55 296.50 294.30 C296.25 299.05 295.97 305.47 295.70 308.50 C295.43 311.53 295.12 311.50 294.90 312.50 C294.68 313.50 294.48 314.17 294.40 314.50 L282.40 314.50 C282.32 314.17 282.12 313.50 281.90 312.50 C281.68 311.50 281.37 311.53 281.10 308.50 C280.83 305.47 280.55 299.05 280.30 294.30 C280.05 289.55 279.85 283.72 279.60 280.00 C279.35 276.28 278.99 274.33 278.80 272.00 C278.61 269.67 278.48 267.83 278.45 266.00 C278.42 264.17 278.47 262.68 278.60 261.00 C278.72 259.32 278.97 257.62 279.20 255.90 C279.43 254.18 279.65 252.43 280.00 250.70 C280.35 248.97 280.83 247.22 281.30 245.50 C281.77 243.78 282.27 242.12 282.80 240.40 C283.33 238.68 284.00 236.93 284.50 235.20 C285.00 233.47 285.48 231.53 285.80 230.00 C286.12 228.47 286.20 227.33 286.40 226.00 C286.60 224.67 286.82 223.17 287.00 222.00 C287.18 220.83 287.37 220.17 287.50 219.00 C287.63 217.83 287.72 217.33 287.80 215.00 C287.88 212.67 287.93 208.45 288.00 205.00 C288.07 201.55 288.17 196.08 288.20 194.30 Z" fill="none" stroke="#a6bce8" stroke-width="3.2" clip-path="url(#vc5)"/>
<path d="M282.40 314.50 C282.32 314.17 282.12 313.50 281.90 312.50 C281.68 311.50 281.37 311.53 281.10 308.50 C280.83 305.47 280.55 299.05 280.30 294.30 C280.05 289.55 279.85 283.72 279.60 280.00 C279.35 276.28 278.99 274.33 278.80 272.00 C278.61 269.67 278.48 267.83 278.45 266.00 C278.42 264.17 278.47 262.68 278.60 261.00 C278.72 259.32 278.97 257.62 279.20 255.90 C279.43 254.18 279.65 252.43 280.00 250.70 C280.35 248.97 280.83 247.22 281.30 245.50 C281.77 243.78 282.27 242.12 282.80 240.40 C283.33 238.68 284.00 236.93 284.50 235.20 C285.00 233.47 285.48 231.53 285.80 230.00 C286.12 228.47 286.20 227.33 286.40 226.00 C286.60 224.67 286.82 223.17 287.00 222.00 C287.18 220.83 287.37 220.17 287.50 219.00 C287.63 217.83 287.72 217.33 287.80 215.00 C287.88 212.67 287.93 208.45 288.00 205.00 C288.07 201.55 288.17 196.08 288.20 194.30 L288.60 194.30 C288.63 196.08 288.73 201.55 288.80 205.00 C288.87 208.45 288.92 212.67 289.00 215.00 C289.08 217.33 289.17 217.83 289.30 219.00 C289.43 220.17 289.62 220.83 289.80 222.00 C289.98 223.17 290.20 224.67 290.40 226.00 C290.60 227.33 290.68 228.47 291.00 230.00 C291.32 231.53 291.80 233.47 292.30 235.20 C292.80 236.93 293.47 238.68 294.00 240.40 C294.53 242.12 295.03 243.78 295.50 245.50 C295.97 247.22 296.45 248.97 296.80 250.70 C297.15 252.43 297.37 254.18 297.60 255.90 C297.83 257.62 298.07 259.32 298.20 261.00 C298.32 262.68 298.38 264.17 298.35 266.00 C298.32 267.83 298.19 269.67 298.00 272.00 C297.81 274.33 297.45 276.28 297.20 280.00 C296.95 283.72 296.75 289.55 296.50 294.30 C296.25 299.05 295.97 305.47 295.70 308.50 C295.43 311.53 295.12 311.50 294.90 312.50 C294.68 313.50 294.48 314.17 294.40 314.50" fill="none" stroke="#244f98" stroke-width="1.55" stroke-linejoin="round"/>
<path d="M328.00 134.20 C328.03 136.83 328.13 144.87 328.20 150.00 C328.27 155.13 328.30 161.07 328.40 165.00 C328.50 168.93 328.58 171.10 328.80 173.60 C329.02 176.10 329.33 177.53 329.70 180.00 C330.07 182.47 330.33 185.57 331.00 188.40 C331.67 191.23 332.82 194.23 333.70 197.00 C334.58 199.77 335.62 202.50 336.30 205.00 C336.98 207.50 337.40 209.57 337.80 212.00 C338.20 214.43 338.73 216.93 338.70 219.60 C338.67 222.27 338.08 225.10 337.60 228.00 C337.12 230.90 336.38 234.17 335.80 237.00 C335.22 239.83 334.65 242.50 334.10 245.00 C333.55 247.50 333.00 249.83 332.50 252.00 C332.00 254.17 331.55 255.68 331.10 258.00 C330.65 260.32 330.17 263.23 329.80 265.90 C329.43 268.57 329.10 270.82 328.90 274.00 C328.70 277.18 328.75 279.95 328.60 285.00 C328.45 290.05 328.10 301.08 328.00 304.30 L327.60 304.30 C327.50 301.08 327.15 290.05 327.00 285.00 C326.85 279.95 326.90 277.18 326.70 274.00 C326.50 270.82 326.17 268.57 325.80 265.90 C325.43 263.23 324.95 260.32 324.50 258.00 C324.05 255.68 323.60 254.17 323.10 252.00 C322.60 249.83 322.05 247.50 321.50 245.00 C320.95 242.50 320.38 239.83 319.80 237.00 C319.22 234.17 318.48 230.90 318.00 228.00 C317.52 225.10 316.93 222.27 316.90 219.60 C316.87 216.93 317.40 214.43 317.80 212.00 C318.20 209.57 318.62 207.50 319.30 205.00 C319.98 202.50 321.02 199.77 321.90 197.00 C322.78 194.23 323.93 191.23 324.60 188.40 C325.27 185.57 325.53 182.47 325.90 180.00 C326.27 177.53 326.58 176.10 326.80 173.60 C327.02 171.10 327.10 168.93 327.20 165.00 C327.30 161.07 327.33 155.13 327.40 150.00 C327.47 144.87 327.57 136.83 327.60 134.20 Z" fill="none" stroke="#ad53a5" stroke-width="1.30" stroke-linejoin="round"/>
<path d="M362.40 101.80 C362.45 104.00 362.58 111.13 362.70 115.00 C362.82 118.87 362.97 121.67 363.10 125.00 C363.23 128.33 363.30 132.17 363.50 135.00 C363.70 137.83 364.10 139.57 364.30 142.00 C364.50 144.43 364.70 146.93 364.70 149.60 C364.70 152.27 364.47 154.93 364.30 158.00 C364.13 161.07 363.78 164.67 363.70 168.00 C363.62 171.33 363.63 174.33 363.80 178.00 C363.97 181.67 364.38 185.83 364.70 190.00 C365.02 194.17 365.32 198.83 365.70 203.00 C366.08 207.17 366.58 210.50 367.00 215.00 C367.42 219.50 367.93 225.00 368.20 230.00 C368.47 235.00 368.55 240.00 368.60 245.00 C368.65 250.00 368.57 255.83 368.50 260.00 C368.43 264.17 368.32 266.83 368.20 270.00 C368.08 273.17 367.72 276.33 367.80 279.00 C367.88 281.67 368.28 283.67 368.70 286.00 C369.12 288.33 369.82 290.67 370.30 293.00 C370.78 295.33 371.27 297.67 371.60 300.00 C371.93 302.33 372.17 304.58 372.30 307.00 C372.43 309.42 372.38 313.25 372.40 314.50 L352.00 314.50 C352.02 313.25 351.97 309.42 352.10 307.00 C352.23 304.58 352.47 302.33 352.80 300.00 C353.13 297.67 353.62 295.33 354.10 293.00 C354.58 290.67 355.28 288.33 355.70 286.00 C356.12 283.67 356.52 281.67 356.60 279.00 C356.68 276.33 356.32 273.17 356.20 270.00 C356.08 266.83 355.97 264.17 355.90 260.00 C355.83 255.83 355.75 250.00 355.80 245.00 C355.85 240.00 355.93 235.00 356.20 230.00 C356.47 225.00 356.98 219.50 357.40 215.00 C357.82 210.50 358.32 207.17 358.70 203.00 C359.08 198.83 359.38 194.17 359.70 190.00 C360.02 185.83 360.43 181.67 360.60 178.00 C360.77 174.33 360.78 171.33 360.70 168.00 C360.62 164.67 360.27 161.07 360.10 158.00 C359.93 154.93 359.70 152.27 359.70 149.60 C359.70 146.93 359.90 144.43 360.10 142.00 C360.30 139.57 360.70 137.83 360.90 135.00 C361.10 132.17 361.17 128.33 361.30 125.00 C361.43 121.67 361.58 118.87 361.70 115.00 C361.82 111.13 361.95 104.00 362.00 101.80 Z" fill="#f0d0e8" stroke="none"/>
<path d="M352.00 314.50 C352.02 313.25 351.97 309.42 352.10 307.00 C352.23 304.58 352.47 302.33 352.80 300.00 C353.13 297.67 353.62 295.33 354.10 293.00 C354.58 290.67 355.28 288.33 355.70 286.00 C356.12 283.67 356.52 281.67 356.60 279.00 C356.68 276.33 356.32 273.17 356.20 270.00 C356.08 266.83 355.97 264.17 355.90 260.00 C355.83 255.83 355.75 250.00 355.80 245.00 C355.85 240.00 355.93 235.00 356.20 230.00 C356.47 225.00 356.98 219.50 357.40 215.00 C357.82 210.50 358.32 207.17 358.70 203.00 C359.08 198.83 359.38 194.17 359.70 190.00 C360.02 185.83 360.43 181.67 360.60 178.00 C360.77 174.33 360.78 171.33 360.70 168.00 C360.62 164.67 360.27 161.07 360.10 158.00 C359.93 154.93 359.70 152.27 359.70 149.60 C359.70 146.93 359.90 144.43 360.10 142.00 C360.30 139.57 360.70 137.83 360.90 135.00 C361.10 132.17 361.17 128.33 361.30 125.00 C361.43 121.67 361.58 118.87 361.70 115.00 C361.82 111.13 361.95 104.00 362.00 101.80 L362.40 101.80 C362.45 104.00 362.58 111.13 362.70 115.00 C362.82 118.87 362.97 121.67 363.10 125.00 C363.23 128.33 363.30 132.17 363.50 135.00 C363.70 137.83 364.10 139.57 364.30 142.00 C364.50 144.43 364.70 146.93 364.70 149.60 C364.70 152.27 364.47 154.93 364.30 158.00 C364.13 161.07 363.78 164.67 363.70 168.00 C363.62 171.33 363.63 174.33 363.80 178.00 C363.97 181.67 364.38 185.83 364.70 190.00 C365.02 194.17 365.32 198.83 365.70 203.00 C366.08 207.17 366.58 210.50 367.00 215.00 C367.42 219.50 367.93 225.00 368.20 230.00 C368.47 235.00 368.55 240.00 368.60 245.00 C368.65 250.00 368.57 255.83 368.50 260.00 C368.43 264.17 368.32 266.83 368.20 270.00 C368.08 273.17 367.72 276.33 367.80 279.00 C367.88 281.67 368.28 283.67 368.70 286.00 C369.12 288.33 369.82 290.67 370.30 293.00 C370.78 295.33 371.27 297.67 371.60 300.00 C371.93 302.33 372.17 304.58 372.30 307.00 C372.43 309.42 372.38 313.25 372.40 314.50" fill="none" stroke="#ad53a5" stroke-width="1.30" stroke-linejoin="round"/>
<rect x="81.00" y="222.40" width="13.70" height="23.40" fill="none" stroke="#2a2a2a" stroke-width="1"/><line x1="77.70" y1="234.30" x2="98.50" y2="234.30" stroke="#111" stroke-width="2.6"/>
<ellipse cx="87.80" cy="187.50" rx="2.80" ry="1.85" fill="none" stroke="#25256f" stroke-width="1.35"/>
<ellipse cx="87.80" cy="208.30" rx="2.80" ry="1.85" fill="none" stroke="#25256f" stroke-width="1.35"/>
<ellipse cx="87.80" cy="222.40" rx="2.80" ry="1.85" fill="none" stroke="#25256f" stroke-width="1.35"/>
<ellipse cx="87.80" cy="235.50" rx="2.80" ry="1.85" fill="none" stroke="#25256f" stroke-width="1.35"/>
<ellipse cx="87.80" cy="237.30" rx="2.80" ry="1.85" fill="none" stroke="#25256f" stroke-width="1.35"/>
<ellipse cx="87.80" cy="243.00" rx="2.80" ry="1.85" fill="none" stroke="#25256f" stroke-width="1.35"/>
<ellipse cx="87.80" cy="245.50" rx="2.80" ry="1.85" fill="none" stroke="#25256f" stroke-width="1.35"/>
<ellipse cx="87.80" cy="257.80" rx="2.80" ry="1.85" fill="none" stroke="#25256f" stroke-width="1.35"/>
<ellipse cx="87.80" cy="314.50" rx="2.80" ry="1.85" fill="none" stroke="#25256f" stroke-width="1.35"/>
<rect x="115.00" y="297.00" width="14.70" height="13.10" fill="none" stroke="#2a2a2a" stroke-width="1"/><line x1="111.70" y1="304.40" x2="132.60" y2="304.40" stroke="#111" stroke-width="2.6"/>
<ellipse cx="122.20" cy="301.90" rx="2.80" ry="1.85" fill="none" stroke="#25256f" stroke-width="1.35"/>
<ellipse cx="122.20" cy="247.60" rx="2.85" ry="1.85" fill="#3a3a95" stroke="#25256f" stroke-width="1.25"/>
<circle cx="122.20" cy="314.20" r="3.40" fill="#2a2a85"/>
<rect x="151.30" y="215.50" width="14.20" height="9.80" fill="none" stroke="#2a2a2a" stroke-width="1"/><line x1="148.00" y1="220.40" x2="168.50" y2="220.40" stroke="#111" stroke-width="2.6"/>
<ellipse cx="158.20" cy="201.20" rx="2.80" ry="1.85" fill="none" stroke="#aa4ca2" stroke-width="1.35"/>
<ellipse cx="158.20" cy="208.40" rx="2.80" ry="1.85" fill="none" stroke="#aa4ca2" stroke-width="1.35"/>
<ellipse cx="158.20" cy="212.00" rx="2.80" ry="1.85" fill="none" stroke="#aa4ca2" stroke-width="1.35"/>
<ellipse cx="158.20" cy="214.50" rx="2.80" ry="1.85" fill="none" stroke="#aa4ca2" stroke-width="1.35"/>
<ellipse cx="158.20" cy="217.00" rx="2.80" ry="1.85" fill="none" stroke="#aa4ca2" stroke-width="1.35"/>
<ellipse cx="158.20" cy="219.50" rx="2.80" ry="1.85" fill="none" stroke="#aa4ca2" stroke-width="1.35"/>
<ellipse cx="158.20" cy="237.20" rx="2.80" ry="1.85" fill="none" stroke="#aa4ca2" stroke-width="1.35"/>
<ellipse cx="158.20" cy="253.10" rx="2.80" ry="1.85" fill="none" stroke="#aa4ca2" stroke-width="1.35"/>
<ellipse cx="158.20" cy="213.50" rx="2.85" ry="1.85" fill="#c060b8" stroke="#aa4ca2" stroke-width="1.25"/>
<ellipse cx="158.20" cy="216.00" rx="2.85" ry="1.85" fill="#c060b8" stroke="#aa4ca2" stroke-width="1.25"/>
<ellipse cx="158.20" cy="218.50" rx="2.85" ry="1.85" fill="#c060b8" stroke="#aa4ca2" stroke-width="1.25"/>
<rect x="184.80" y="283.60" width="15.20" height="16.40" fill="none" stroke="#2a2a2a" stroke-width="1"/><line x1="183.20" y1="291.80" x2="202.00" y2="291.80" stroke="#111" stroke-width="2.6"/>
<ellipse cx="192.50" cy="237.20" rx="2.80" ry="1.85" fill="none" stroke="#aa4ca2" stroke-width="1.35"/>
<ellipse cx="192.50" cy="268.10" rx="2.80" ry="1.85" fill="none" stroke="#aa4ca2" stroke-width="1.35"/>
<ellipse cx="192.50" cy="285.80" rx="2.80" ry="1.85" fill="none" stroke="#aa4ca2" stroke-width="1.35"/>
<ellipse cx="192.50" cy="297.20" rx="2.80" ry="1.85" fill="none" stroke="#aa4ca2" stroke-width="1.35"/>
<ellipse cx="192.50" cy="306.00" rx="2.80" ry="1.85" fill="none" stroke="#aa4ca2" stroke-width="1.35"/>
<ellipse cx="192.50" cy="313.90" rx="2.80" ry="1.85" fill="none" stroke="#aa4ca2" stroke-width="1.35"/>
<ellipse cx="192.50" cy="285.80" rx="2.85" ry="1.85" fill="#c060b8" stroke="#aa4ca2" stroke-width="1.25"/>
<rect x="247.20" y="198.70" width="13.90" height="19.70" fill="none" stroke="#2a2a2a" stroke-width="1"/><line x1="244.40" y1="208.60" x2="264.00" y2="208.60" stroke="#111" stroke-width="2.6"/>
<ellipse cx="254.20" cy="149.10" rx="2.80" ry="1.85" fill="none" stroke="#25256f" stroke-width="1.35"/>
<ellipse cx="254.20" cy="176.30" rx="2.80" ry="1.85" fill="none" stroke="#25256f" stroke-width="1.35"/>
<ellipse cx="254.20" cy="188.90" rx="2.80" ry="1.85" fill="none" stroke="#25256f" stroke-width="1.35"/>
<ellipse cx="254.20" cy="193.00" rx="2.80" ry="1.85" fill="none" stroke="#25256f" stroke-width="1.35"/>
<ellipse cx="254.20" cy="209.40" rx="2.80" ry="1.85" fill="none" stroke="#25256f" stroke-width="1.35"/>
<ellipse cx="254.20" cy="219.50" rx="2.80" ry="1.85" fill="none" stroke="#25256f" stroke-width="1.35"/>
<ellipse cx="254.20" cy="232.40" rx="2.80" ry="1.85" fill="none" stroke="#25256f" stroke-width="1.35"/>
<ellipse cx="254.20" cy="241.80" rx="2.80" ry="1.85" fill="none" stroke="#25256f" stroke-width="1.35"/>
<ellipse cx="254.20" cy="252.60" rx="2.80" ry="1.85" fill="none" stroke="#25256f" stroke-width="1.35"/>
<rect x="281.20" y="271.40" width="14.60" height="15.60" fill="none" stroke="#2a2a2a" stroke-width="1"/><line x1="279.10" y1="278.70" x2="298.20" y2="278.70" stroke="#111" stroke-width="2.6"/>
<ellipse cx="288.40" cy="248.60" rx="2.80" ry="1.85" fill="none" stroke="#25256f" stroke-width="1.35"/>
<ellipse cx="288.40" cy="263.60" rx="2.80" ry="1.85" fill="none" stroke="#25256f" stroke-width="1.35"/>
<ellipse cx="288.40" cy="298.30" rx="2.80" ry="1.85" fill="none" stroke="#25256f" stroke-width="1.35"/>
<ellipse cx="288.40" cy="300.80" rx="2.80" ry="1.85" fill="none" stroke="#25256f" stroke-width="1.35"/>
<ellipse cx="288.40" cy="303.30" rx="2.80" ry="1.85" fill="none" stroke="#25256f" stroke-width="1.35"/>
<ellipse cx="288.40" cy="314.90" rx="2.80" ry="1.85" fill="none" stroke="#25256f" stroke-width="1.35"/>
<ellipse cx="288.40" cy="257.30" rx="2.85" ry="1.85" fill="#3a3a95" stroke="#25256f" stroke-width="1.25"/>
<ellipse cx="288.40" cy="259.50" rx="2.85" ry="1.85" fill="#3a3a95" stroke="#25256f" stroke-width="1.25"/>
<ellipse cx="288.40" cy="261.50" rx="2.85" ry="1.85" fill="#3a3a95" stroke="#25256f" stroke-width="1.25"/>
<ellipse cx="288.40" cy="278.70" rx="2.85" ry="1.85" fill="#3a3a95" stroke="#25256f" stroke-width="1.25"/>
<rect x="321.30" y="214.40" width="13.90" height="11.80" fill="none" stroke="#2a2a2a" stroke-width="1"/><line x1="317.70" y1="220.50" x2="339.00" y2="220.50" stroke="#111" stroke-width="2.6"/>
<ellipse cx="327.80" cy="188.40" rx="2.80" ry="1.85" fill="none" stroke="#aa4ca2" stroke-width="1.35"/>
<ellipse cx="327.80" cy="208.20" rx="2.80" ry="1.85" fill="none" stroke="#aa4ca2" stroke-width="1.35"/>
<ellipse cx="327.80" cy="213.10" rx="2.80" ry="1.85" fill="none" stroke="#aa4ca2" stroke-width="1.35"/>
<ellipse cx="327.80" cy="215.60" rx="2.80" ry="1.85" fill="none" stroke="#aa4ca2" stroke-width="1.35"/>
<ellipse cx="327.80" cy="218.00" rx="2.80" ry="1.85" fill="none" stroke="#aa4ca2" stroke-width="1.35"/>
<ellipse cx="327.80" cy="220.40" rx="2.80" ry="1.85" fill="none" stroke="#aa4ca2" stroke-width="1.35"/>
<ellipse cx="327.80" cy="222.80" rx="2.80" ry="1.85" fill="none" stroke="#aa4ca2" stroke-width="1.35"/>
<ellipse cx="327.80" cy="227.00" rx="2.80" ry="1.85" fill="none" stroke="#aa4ca2" stroke-width="1.35"/>
<ellipse cx="327.80" cy="236.80" rx="2.80" ry="1.85" fill="none" stroke="#aa4ca2" stroke-width="1.35"/>
<ellipse cx="327.80" cy="251.10" rx="2.80" ry="1.85" fill="none" stroke="#aa4ca2" stroke-width="1.35"/>
<ellipse cx="327.80" cy="216.80" rx="2.85" ry="1.85" fill="#c060b8" stroke="#aa4ca2" stroke-width="1.25"/>
<ellipse cx="327.80" cy="219.20" rx="2.85" ry="1.85" fill="#c060b8" stroke="#aa4ca2" stroke-width="1.25"/>
<rect x="355.60" y="239.00" width="14.00" height="38.10" fill="none" stroke="#2a2a2a" stroke-width="1"/><line x1="357.30" y1="258.10" x2="367.40" y2="258.10" stroke="#111" stroke-width="2.6"/>
<ellipse cx="362.20" cy="149.60" rx="2.80" ry="1.85" fill="none" stroke="#aa4ca2" stroke-width="1.35"/>
<ellipse cx="362.20" cy="202.90" rx="2.80" ry="1.85" fill="none" stroke="#aa4ca2" stroke-width="1.35"/>
<ellipse cx="362.20" cy="229.10" rx="2.80" ry="1.85" fill="none" stroke="#aa4ca2" stroke-width="1.35"/>
<ellipse cx="362.20" cy="240.10" rx="2.80" ry="1.85" fill="none" stroke="#aa4ca2" stroke-width="1.35"/>
<ellipse cx="362.20" cy="262.90" rx="2.80" ry="1.85" fill="none" stroke="#aa4ca2" stroke-width="1.35"/>
<ellipse cx="362.20" cy="304.90" rx="2.80" ry="1.85" fill="none" stroke="#aa4ca2" stroke-width="1.35"/>
<ellipse cx="362.20" cy="308.20" rx="2.80" ry="1.85" fill="none" stroke="#aa4ca2" stroke-width="1.35"/>
<ellipse cx="362.20" cy="312.30" rx="2.80" ry="1.85" fill="none" stroke="#aa4ca2" stroke-width="1.35"/>
<rect x="62.80" y="335.9" width="18.9" height="18.3" fill="none" stroke="#1f5a9c" stroke-width="1.8"/><rect x="153.60" y="335.9" width="18.9" height="18.3" fill="#9799d3" stroke="#2a58a0" stroke-width="1.8"/><rect x="236.00" y="335.9" width="18.9" height="18.3" fill="none" stroke="#a04c98" stroke-width="1.8"/><rect x="326.60" y="335.9" width="18.9" height="18.3" fill="#f0d0e8" stroke="#9c4a94" stroke-width="1.8"/><text x="85.70" y="343" font-size="16">male</text><text x="85.70" y="359" font-size="16">baseline</text><text x="176.20" y="343" font-size="16">male</text><text x="176.20" y="359" font-size="16">shock</text><text x="259.30" y="343" font-size="16">female</text><text x="259.30" y="359" font-size="16">baseline</text><text x="350.00" y="343" font-size="16">female</text><text x="350.00" y="359" font-size="16">shock</text>
<rect x="466.2" y="50.4" width="272.3" height="271.7" fill="none" stroke="#222" stroke-width="1.3"/><line x1="462.3" y1="312.30" x2="466.2" y2="312.30" stroke="#222" stroke-width="1.2"/><line x1="462.3" y1="270.30" x2="466.2" y2="270.30" stroke="#222" stroke-width="1.2"/><line x1="462.3" y1="228.30" x2="466.2" y2="228.30" stroke="#222" stroke-width="1.2"/><line x1="462.3" y1="186.30" x2="466.2" y2="186.30" stroke="#222" stroke-width="1.2"/><line x1="462.3" y1="144.30" x2="466.2" y2="144.30" stroke="#222" stroke-width="1.2"/><line x1="462.3" y1="102.30" x2="466.2" y2="102.30" stroke="#222" stroke-width="1.2"/><line x1="462.3" y1="60.30" x2="466.2" y2="60.30" stroke="#222" stroke-width="1.2"/><text x="455.7" y="317.00" text-anchor="end" font-size="16">0%</text><text x="455.7" y="233.00" text-anchor="end" font-size="16">20%</text><text x="455.7" y="148.00" text-anchor="end" font-size="16">40%</text><text x="455.7" y="67.00" text-anchor="end" font-size="16">60%</text><line x1="476.40" y1="322.1" x2="476.40" y2="326.3" stroke="#222" stroke-width="1.2"/><text x="479.50" y="346" text-anchor="middle" font-size="16">0%</text><line x1="526.78" y1="322.1" x2="526.78" y2="326.3" stroke="#222" stroke-width="1.2"/><text x="529.40" y="346" text-anchor="middle" font-size="16">20%</text><line x1="577.16" y1="322.1" x2="577.16" y2="326.3" stroke="#222" stroke-width="1.2"/><text x="579.40" y="346" text-anchor="middle" font-size="16">40%</text><line x1="627.54" y1="322.1" x2="627.54" y2="326.3" stroke="#222" stroke-width="1.2"/><text x="629.30" y="346" text-anchor="middle" font-size="16">60%</text><line x1="677.92" y1="322.1" x2="677.92" y2="326.3" stroke="#222" stroke-width="1.2"/><text x="679.50" y="346" text-anchor="middle" font-size="16">80%</text><line x1="728.30" y1="322.1" x2="728.30" y2="326.3" stroke="#222" stroke-width="1.2"/><text x="731.00" y="346" text-anchor="middle" font-size="16">100%</text><text x="604.8" y="363" text-anchor="middle" font-size="16">dem freezing</text><text transform="translate(419.5,182) rotate(-90)" text-anchor="middle" font-size="16">dem rearing/climbing</text><defs><clipPath id="cb"><rect x="467" y="51" width="271" height="270.5"/></clipPath></defs><g clip-path="url(#cb)"><line x1="466.2" y1="184.5" x2="700.8" y2="322.1" stroke="#a8449f" stroke-width="2.6"/><path d="M476.00 115.60 C478.33 117.75 485.17 123.77 490.00 128.50 C494.83 133.23 500.00 138.58 505.00 144.00 C510.00 149.42 515.05 155.92 520.00 161.00 C524.95 166.08 529.80 170.20 534.70 174.50 C539.60 178.80 543.68 182.10 549.40 186.80 C555.12 191.50 561.65 198.30 569.00 202.70 C576.35 207.10 585.33 210.33 593.50 213.20 C601.67 216.07 609.42 218.02 618.00 219.90 C626.58 221.78 635.50 223.38 645.00 224.50 C654.50 225.62 670.00 226.25 675.00 226.60" fill="none" stroke="#a8449f" stroke-width="3" stroke-dasharray="3.8 4.2"/><path d="M476.00 264.80 C478.83 265.08 487.33 265.77 493.00 266.50 C498.67 267.23 504.67 268.23 510.00 269.20 C515.33 270.17 520.00 271.13 525.00 272.30 C530.00 273.47 534.17 274.38 540.00 276.20 C545.83 278.02 553.33 279.77 560.00 283.20 C566.67 286.63 573.67 292.50 580.00 296.80 C586.33 301.10 592.83 304.88 598.00 309.00 C603.17 313.12 608.83 319.42 611.00 321.50" fill="none" stroke="#a8449f" stroke-width="3" stroke-dasharray="3.8 4.2"/><line x1="611.6" y1="228" x2="734.5" y2="323.5" stroke="#3a4aa8" stroke-width="2.6"/><path d="M626.70 201.70 C628.13 204.08 632.28 211.38 635.30 216.00 C638.32 220.62 641.30 224.95 644.80 229.40 C648.30 233.85 652.48 238.88 656.30 242.70 C660.12 246.52 664.20 249.75 667.70 252.30 C671.20 254.85 673.48 256.35 677.30 258.00 C681.12 259.65 688.38 261.50 690.60 262.20" fill="none" stroke="#3a4aa8" stroke-width="2.6" stroke-dasharray="5 3.5"/><path d="M626.10 276.50 C628.50 276.78 635.83 277.45 640.50 278.20 C645.17 278.95 650.02 279.63 654.10 281.00 C658.18 282.37 661.82 284.37 665.00 286.40 C668.18 288.43 670.70 290.82 673.20 293.20 C675.70 295.58 677.45 297.40 680.00 300.70 C682.55 304.00 687.08 310.95 688.50 313.00" fill="none" stroke="#3a4aa8" stroke-width="2.6" stroke-dasharray="5 3.5"/></g><circle cx="560.00" cy="117.70" r="3.35" fill="#a8449f"/><circle cx="535.50" cy="180.90" r="3.35" fill="#a8449f"/><circle cx="480.90" cy="211.00" r="3.35" fill="#a8449f"/><circle cx="476.40" cy="224.40" r="3.35" fill="#a8449f"/><circle cx="519.20" cy="251.40" r="3.35" fill="#a8449f"/><circle cx="609.70" cy="303.80" r="3.35" fill="#a8449f"/><circle cx="634.80" cy="300.90" r="3.35" fill="#a8449f"/><circle cx="632.10" cy="309.70" r="3.35" fill="#a8449f"/><circle cx="681.50" cy="308.30" r="3.35" fill="#a8449f"/><circle cx="626.90" cy="233.90" r="3.35" fill="#3a4aa8"/><circle cx="642.50" cy="252.50" r="3.35" fill="#3a4aa8"/><circle cx="657.80" cy="246.50" r="3.35" fill="#3a4aa8"/><circle cx="668.20" cy="247.40" r="3.35" fill="#3a4aa8"/><circle cx="677.80" cy="244.40" r="3.35" fill="#3a4aa8"/><circle cx="675.70" cy="269.80" r="3.35" fill="#3a4aa8"/><circle cx="652.50" cy="299.10" r="3.35" fill="#3a4aa8"/><circle cx="669.90" cy="296.40" r="3.35" fill="#3a4aa8"/><circle cx="685.00" cy="293.30" r="3.35" fill="#3a4aa8"/><circle cx="702.70" cy="311.80" r="3.35" fill="#3a4aa8"/>
</svg>
</body></html>
